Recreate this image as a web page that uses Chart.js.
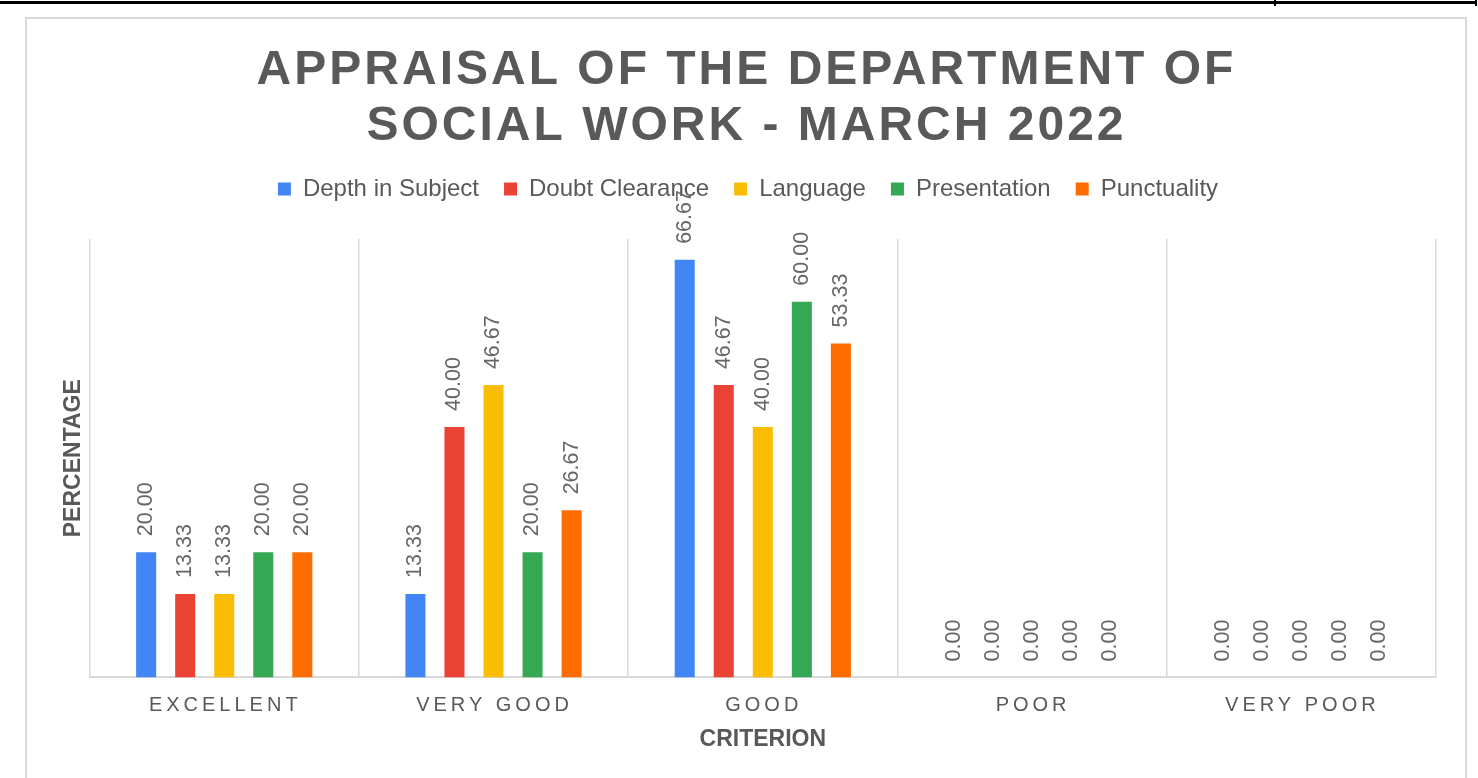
<!DOCTYPE html>
<html>
<head>
<meta charset="utf-8">
<script src="https://cdn.jsdelivr.net/npm/chart.js@4.4.1/dist/chart.umd.min.js"></script>
<style>
  html, body { margin: 0; padding: 0; background: #fff; width: 1478px; height: 778px; overflow: hidden; }
  .rule { position: absolute; left: 0; top: 1px; width: 1477px; height: 3px; background: #000; }
  .tick { position: absolute; top: 0; width: 2px; height: 6px; background: #000; }
  .frame { position: absolute; left: 25px; top: 17px; width: 1438px; height: 770px; border: 2px solid #d9d9d9; }
  canvas { display: block; }
</style>
</head>
<body>
<div class="rule"></div>
<div class="tick" style="left:1274px"></div>
<div class="tick" style="left:1475px"></div>
<div class="frame"><canvas id="appraisalChart" width="1438" height="770"></canvas></div>
<script>
const titleLines = ["APPRAISAL OF THE DEPARTMENT OF", "SOCIAL WORK - MARCH 2022"];
const categories = ["EXCELLENT", "VERY GOOD", "GOOD", "POOR", "VERY POOR"];
const depthInSubject = [20.00, 13.33, 66.67, 0.00, 0.00];
const doubtClearance = [13.33, 40.00, 46.67, 0.00, 0.00];
const language = [13.33, 46.67, 40.00, 0.00, 0.00];
const presentation = [20.00, 20.00, 60.00, 0.00, 0.00];
const punctuality = [20.00, 26.67, 53.33, 0.00, 0.00];
const yMax = 70;

const FONT = '"Liberation Sans", Arial, sans-serif';
const TEXT_GREY = "#595959";

// draws the spaced-out title, the spaced category labels and the value labels
const excelText = {
    id: "excelText",
    afterInit(chart) {
        const fit = chart.legend.fit;
        chart.legend.fit = function () {
            fit.call(this);
            this.height += 28; // gap between legend and plot
        };
    },
    afterDatasetsDraw(chart) {
        const ctx = chart.ctx;
        ctx.save();
        ctx.font = "21.5px " + FONT;
        ctx.fillStyle = "#666666";
        ctx.textAlign = "left";
        ctx.textBaseline = "middle";
        chart.data.datasets.forEach((ds, i) => {
            chart.getDatasetMeta(i).data.forEach((bar, j) => {
                ctx.save();
                ctx.translate(bar.x, bar.y - 16);
                ctx.rotate(-Math.PI / 2);
                ctx.fillText(ds.data[j].toFixed(2), 0, 0);
                ctx.restore();
            });
        });
        ctx.restore();
    },
    afterDraw(chart) {
        const ctx = chart.ctx;
        const mid = chart.width / 2;
        ctx.save();
        ctx.textAlign = "left";
        ctx.textBaseline = "alphabetic";

        // title
        ctx.font = "bold 48px " + FONT;
        ctx.fillStyle = TEXT_GREY;
        ctx.letterSpacing = "3px";
        titleLines.forEach((line, i) => {
            let w = ctx.measureText(line).width - 3;
            ctx.fillText(line, mid - w / 2 - 1, 65 + i * 56);
        });

        // category labels
        const xScale = chart.scales.x;
        ctx.font = "20px " + FONT;
        ctx.letterSpacing = "4px";
        categories.forEach((label, i) => {
            let x = xScale.getPixelForValue(i);
            let w = ctx.measureText(label).width - 4;
            ctx.fillText(label, x - w / 2 - 1, chart.chartArea.bottom + 34);
        });
        ctx.restore();
    }
};

const ctx = document.getElementById("appraisalChart").getContext("2d");
new Chart(ctx, {
    type: "bar",
    data: {
        labels: categories,
        datasets: [
            { label: "Depth in Subject", data: depthInSubject, backgroundColor: "#4285F4" },
            { label: "Doubt Clearance", data: doubtClearance, backgroundColor: "#EA4335" },
            { label: "Language", data: language, backgroundColor: "#FBBC04" },
            { label: "Presentation", data: presentation, backgroundColor: "#34A853" },
            { label: "Punctuality", data: punctuality, backgroundColor: "#FF6D01" }
        ]
    },
    options: {
        responsive: false,
        animation: false,
        datasets: {
            bar: { categoryPercentage: 0.725, barPercentage: 0.513, borderWidth: 0 }
        },
        layout: { padding: { top: 133, left: 33, right: 29, bottom: 36 } },
        plugins: {
            title: { display: false },
            tooltip: { enabled: false },
            legend: {
                position: "top",
                labels: {
                    color: TEXT_GREY,
                    font: { family: FONT, size: 24 },
                    boxWidth: 13,
                    boxHeight: 13,
                    padding: 25
                }
            }
        },
        scales: {
            x: {
                ticks: { display: false },
                grid: { color: "#d9d9d9", lineWidth: 1.5, drawTicks: false, offset: true },
                border: { color: "#d9d9d9", width: 2 },
                title: {
                    display: true,
                    text: "CRITERION",
                    color: TEXT_GREY,
                    font: { family: FONT, size: 23, weight: "bold" },
                    padding: { top: 48, bottom: 0 }
                }
            },
            y: {
                min: 0,
                max: yMax,
                ticks: { display: false },
                grid: { display: false, drawTicks: false },
                border: { display: false },
                title: {
                    display: true,
                    text: "PERCENTAGE",
                    color: TEXT_GREY,
                    font: { family: FONT, size: 23, weight: "bold" },
                    padding: { top: 0, bottom: 2 }
                }
            }
        }
    },
    plugins: [excelText]
});
</script>
</body>
</html>
